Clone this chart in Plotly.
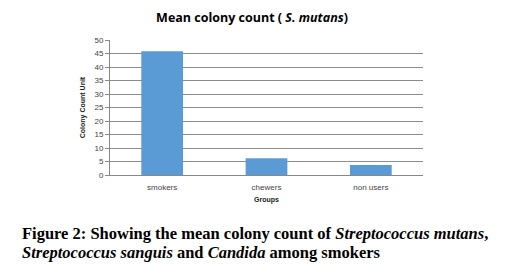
import plotly.graph_objects as go

categories = ["smokers", "chewers", "non users"]
values = [45.8, 6.2, 3.7]
y_ticks = [0, 5, 10, 15, 20, 25, 30, 35, 40, 45, 50]

fig = go.Figure()
fig.add_trace(go.Bar(x=categories, y=values, marker=dict(color="#5B9BD5", line=dict(width=0)), width=0.4))

fig.update_layout(
    width=507, height=274,
    margin=dict(l=110, r=84, t=40, b=99),
    paper_bgcolor="white", plot_bgcolor="white",
    showlegend=False,
    title=dict(text="<b>Mean colony count ( <i>S. mutans</i>)</b>", x=252 / 507, xref="container",
               xanchor="center", y=1 - 18 / 274, yanchor="middle",
               font=dict(family="Open Sans, Liberation Sans, sans-serif", size=12.5, color="black")),
    font=dict(family="Liberation Sans, sans-serif", size=8, color="#333"),
)
fig.update_xaxes(showline=True, linecolor="#888", linewidth=1, ticks="outside", ticklen=4,
                 tickcolor="rgba(0,0,0,0)", tickfont=dict(size=8, color="#444"),
                 title=dict(text="<b>Groups</b>", font=dict(size=7, color="#222"), standoff=6))
fig.update_yaxes(range=[0, 50], tickvals=y_ticks, showgrid=True, gridcolor="#8c8c8c", gridwidth=1,
                 showline=True, linecolor="#888", ticks="outside", ticklen=4, tickcolor="#888",
                 tickfont=dict(size=8, color="#444"), zeroline=False,
                 title=dict(text="<b>Colony Count Unit</b>", font=dict(size=7, color="#222"), standoff=8))

cap1 = "<b>Figure 2: Showing the mean colony count of <i>Streptococcus mutans</i>,</b>"
cap2 = "<b><i>Streptococcus sanguis</i> and <i>Candida</i> among smokers</b>"
for txt, ypx in [(cap1, 233), (cap2, 252)]:
    fig.add_annotation(text=txt, xref="paper", yref="paper",
                       x=(20 - 110) / 313, y=(175 - ypx) / 135, xanchor="left", yanchor="middle",
                       showarrow=False, font=dict(family="Liberation Serif, serif", size=16.5, color="black"))

fig.write_html("out.html", config={"displayModeBar": False},
               post_script="document.body.style.margin='0';")
